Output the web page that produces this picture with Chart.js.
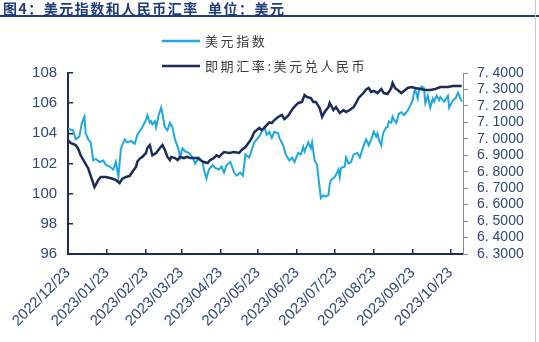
<!DOCTYPE html>
<html>
<head>
<meta charset="utf-8">
<script src="https://cdn.jsdelivr.net/npm/chart.js@4.4.0/dist/chart.umd.min.js"></script>
<style>
  body { margin: 0; background: #fff; }
  #wrap { position: relative; width: 539px; height: 342px; overflow: hidden; background: #fff; }
  #title {
    position: absolute; left: 0; top: 0; width: 539px; height: 17px;
    box-sizing: border-box; padding-left: 3px;
    border-bottom: 2px solid #1f3c7a;
    font: bold 14px "Noto Sans CJK SC", sans-serif; letter-spacing: 1.5px;
    line-height: 16px; color: #1f3c7a; white-space: nowrap;
  }
  #edge { position: absolute; left: 535px; top: 0; width: 1px; height: 342px; background: #c8c8c8; }
  canvas { position: absolute; left: 0; top: 0; }
</style>
</head>
<body>
<div id="wrap">
  <canvas id="myChart" width="539" height="342"></canvas>
  <div id="title">图4：美元指数和人民币汇率&nbsp;&nbsp;单位：美元</div>
  <div id="edge"></div>
</div>
<script>
// days counted from 2022/12/23
var usdDays = [0, 4, 6, 9, 11, 13, 14, 16, 18, 20, 22, 25, 28, 30, 33, 36, 38, 40, 42, 45,
  47, 50, 53, 55, 59, 62, 63, 65, 66, 67, 69, 70, 72, 74, 75, 77, 79, 81, 83, 85,
  88, 89, 91, 93, 96, 99, 101, 104, 107, 108, 110, 112, 115, 117, 120, 122, 124, 126, 129, 132,
  134, 137, 139, 141, 144, 146, 148, 152, 154, 156, 158, 160, 162, 164, 167, 168, 171, 173, 176, 178,
  180, 183, 185, 187, 188, 191, 193, 194, 196, 198, 199, 201, 203, 205, 207, 208, 209, 212, 215, 216,
  217, 220, 221, 223, 225, 227, 230, 232, 235, 237, 239, 241, 243, 245, 246, 247, 249, 250, 251, 253,
  254, 255, 257, 258, 259, 261, 262, 263, 265, 267, 270, 273, 274, 275, 276, 278, 279, 281, 283, 284,
  286, 288, 290, 291, 293, 295, 296, 299, 302, 303, 306, 308, 310, 313];
var usdIndex = [104.3, 104.2, 103.6, 103.8, 104.7, 105.1, 104.0, 103.6, 103.4, 102.2, 102.3, 102.1, 102.2, 101.9, 101.8, 101.6, 102.1, 101.1, 103.0, 103.6,
  103.4, 103.5, 103.3, 103.9, 104.4, 104.9, 105.2, 104.7, 104.8, 104.6, 104.8, 104.4, 105.2, 105.7, 105.3, 104.4, 104.2, 104.7, 104.4, 103.6,
  102.9, 102.4, 103.0, 102.8, 102.7, 102.4, 102.0, 102.4, 102.1, 101.6, 101.0, 101.6, 101.9, 101.7, 101.6, 101.8, 101.4, 101.9, 102.1, 101.4,
  101.2, 101.4, 101.2, 102.6, 102.4, 102.9, 103.4, 103.8, 104.1, 104.4, 103.9, 104.1, 103.7, 104.1, 104.0, 103.7, 103.2, 102.6, 102.2, 102.4,
  102.1, 102.7, 102.6, 103.1, 102.8, 103.4, 103.0, 103.4, 102.2, 101.9, 101.1, 99.7, 99.9, 99.8, 99.9, 100.6, 100.9, 101.1, 101.6, 101.1,
  101.7, 101.8, 102.4, 102.0, 102.1, 102.6, 102.7, 102.4, 103.2, 103.6, 103.2, 103.6, 104.1, 103.8, 104.0, 103.6, 103.2, 103.8, 104.1, 104.4,
  104.4, 104.8, 104.7, 105.1, 104.9, 104.7, 105.0, 105.3, 105.4, 105.2, 105.5, 106.0, 106.2, 106.7, 106.9, 106.3, 106.9, 107.1, 107.0, 106.0,
  106.5, 105.7, 106.3, 106.1, 106.5, 106.2, 106.4, 106.1, 106.5, 105.7, 106.2, 106.3, 106.7, 106.1];

var cnyDays = [0, 2, 6, 8, 10, 13, 16, 18, 21, 22, 24, 26, 30, 34, 38, 41, 43, 46, 49, 51,
  54, 55, 57, 59, 62, 63, 65, 67, 70, 73, 75, 77, 79, 81, 82, 85, 87, 89, 92, 95,
  97, 100, 103, 105, 108, 111, 113, 116, 118, 120, 124, 128, 132, 136, 138, 141, 144, 146, 148, 152,
  154, 156, 160, 162, 164, 167, 170, 172, 175, 179, 183, 186, 188, 190, 193, 195, 197, 200, 202, 204,
  207, 208, 211, 213, 216, 219, 221, 224, 227, 229, 231, 235, 237, 239, 241, 243, 246, 249, 251, 254,
  257, 258, 260, 262, 265, 267, 270, 273, 276, 280, 284, 288, 292, 296, 302, 306, 313];
var cnyRate = [6.990, 6.975, 6.962, 6.940, 6.900, 6.860, 6.820, 6.775, 6.707, 6.720, 6.750, 6.768, 6.768, 6.760, 6.750, 6.731, 6.756, 6.768, 6.774, 6.798,
  6.829, 6.860, 6.880, 6.890, 6.914, 6.944, 6.962, 6.900, 6.914, 6.944, 6.962, 6.932, 6.890, 6.871, 6.890, 6.883, 6.871, 6.890, 6.883, 6.890,
  6.883, 6.883, 6.883, 6.871, 6.859, 6.853, 6.871, 6.883, 6.900, 6.890, 6.920, 6.914, 6.920, 6.914, 6.932, 6.950, 6.980, 7.005, 7.040, 7.066,
  7.053, 7.066, 7.100, 7.096, 7.114, 7.133, 7.145, 7.120, 7.140, 7.187, 7.218, 7.224, 7.266, 7.254, 7.248, 7.224, 7.224, 7.187, 7.133, 7.163,
  7.193, 7.218, 7.175, 7.193, 7.157, 7.175, 7.163, 7.175, 7.193, 7.218, 7.248, 7.280, 7.300, 7.309, 7.285, 7.291, 7.278, 7.303, 7.278, 7.272,
  7.309, 7.339, 7.309, 7.297, 7.278, 7.291, 7.309, 7.315, 7.309, 7.303, 7.297, 7.297, 7.303, 7.315, 7.315, 7.321, 7.321];

var tickDays = [0, 31, 62, 90, 121, 151, 182, 212, 243, 274, 304];
var tickLabels = ['2022/12/23', '2023/01/23', '2023/02/23', '2023/03/23', '2023/04/23', '2023/05/23',
  '2023/06/23', '2023/07/23', '2023/08/23', '2023/09/23', '2023/10/23'];
var rateTicks = [6.3, 6.4, 6.5, 6.6, 6.7, 6.8, 6.9, 7.0, 7.1, 7.2, 7.3, 7.4];
var seriesNames = ['美元指数', '即期汇率:美元兑人民币'];

var navy = '#1c2b5a';
var labelColor = '#2f4878';
var fontFamily = '"Liberation Sans", Arial, sans-serif';

function toPoints(days, values) {
  return days.map(function (d, i) { return { x: d, y: values[i] }; });
}

// legend stacked in two rows above the plot
var stackedLegend = {
  id: 'stackedLegend',
  afterDraw: function (chart) {
    var ctx = chart.ctx;
    ctx.save();
    ctx.font = '13px "Noto Sans CJK SC", sans-serif';
    ctx.letterSpacing = '2.6px';
    ctx.textBaseline = 'middle';
    chart.data.datasets.forEach(function (ds, i) {
      var y = 41 + i * 25;
      ctx.strokeStyle = ds.borderColor;
      ctx.lineWidth = 2.5;
      ctx.beginPath();
      ctx.moveTo(162, y);
      ctx.lineTo(200, y);
      ctx.stroke();
      ctx.fillStyle = '#3c3c3c';
      ctx.fillText(ds.label, 205, y);
    });
    ctx.restore();
  }
};

var chart = new Chart(document.getElementById('myChart'), {
  type: 'line',
  data: {
    datasets: [{
      label: seriesNames[0],
      data: toPoints(usdDays, usdIndex),
      borderColor: '#1fa8e0',
      borderWidth: 2,
      pointRadius: 0,
      yAxisID: 'y',
      order: 1
    }, {
      label: seriesNames[1],
      data: toPoints(cnyDays, cnyRate),
      borderColor: navy,
      borderWidth: 2.5,
      pointRadius: 0,
      yAxisID: 'y1',
      order: 0
    }]
  },
  options: {
    responsive: false,
    animation: false,
    events: [],
    layout: { padding: { top: 73, left: 0, right: 0, bottom: 0 } },
    plugins: { legend: { display: false }, tooltip: { enabled: false } },
    scales: {
      x: {
        type: 'linear',
        min: 0,
        max: 314,
        afterBuildTicks: function (scale) {
          scale.ticks = tickDays.map(function (d) { return { value: d }; });
        },
        afterFit: function (scale) { scale.height = 88; },
        border: { color: navy, width: 2 },
        grid: { drawOnChartArea: false, tickLength: -5, color: navy, lineWidth: 1.5 },
        ticks: {
          autoSkip: false,
          minRotation: 45,
          maxRotation: 45,
          padding: 15,
          color: labelColor,
          font: { family: fontFamily, size: 15 },
          callback: function (value, index) { return tickLabels[index]; }
        }
      },
      y: {
        position: 'left',
        min: 96,
        max: 108,
        afterFit: function (scale) { scale.width = 64; },
        border: { color: navy, width: 2 },
        grid: { drawOnChartArea: false, tickLength: -5, color: navy, lineWidth: 1.5 },
        ticks: { stepSize: 2, padding: 16, color: labelColor, font: { family: fontFamily, size: 15 } }
      },
      y1: {
        position: 'right',
        min: 6.3,
        max: 7.4,
        afterBuildTicks: function (scale) {
          scale.ticks = rateTicks.map(function (v) { return { value: v }; });
        },
        afterFit: function (scale) { scale.width = 76; },
        border: { color: '#8c8c8c', width: 1 },
        grid: { drawOnChartArea: false, tickLength: 5, color: '#8c8c8c', lineWidth: 1 },
        ticks: {
          autoSkip: false,
          padding: 9,
          color: labelColor,
          font: { family: fontFamily, size: 14 },
          callback: function (value) { return value.toFixed(4).replace('.', '. '); }
        }
      }
    }
  },
  plugins: [stackedLegend]
});
</script>
</body>
</html>
